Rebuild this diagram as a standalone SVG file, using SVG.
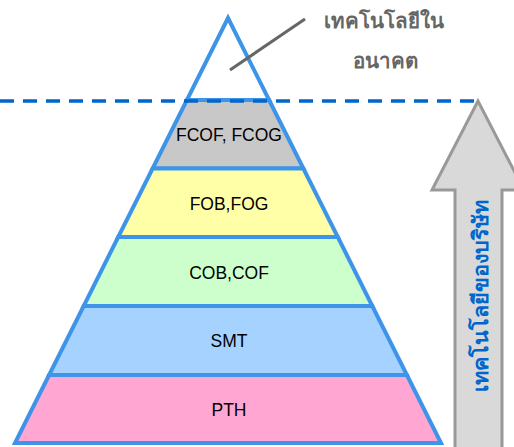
<svg xmlns="http://www.w3.org/2000/svg" width="514" height="447" viewBox="0 0 514 447">
<defs>
<style>
.layer{stroke:#3d94e8;stroke-width:4;stroke-linejoin:miter}
.lbl{font-family:"Liberation Sans",Arial,sans-serif;font-size:17.5px;fill:#000;text-anchor:middle}
.thai{font-family:"Liberation Sans","Noto Sans",sans-serif;font-weight:bold;font-size:20.5px;fill:#666;text-anchor:middle}
</style>
</defs>
<rect width="514" height="447" fill="#fff"/>
<g id="arrow">
<path d="M478,101 L432,190 L455,190 L455,450 L502,450 L502,190 L524,190 Z" fill="#d9d9d9" stroke="#999" stroke-width="3"/>
<text transform="translate(481,296) rotate(-90)" font-family="'Liberation Sans','Noto Sans',sans-serif" font-weight="bold" font-size="21.5" fill="#0066cc" text-anchor="middle" dominant-baseline="central">เทคโนโลยีของบริษัท</text>
</g>
<g id="apex">
<polygon class="layer" points="228,18 269.1,100 186.9,100" fill="#fff"/>
</g>
<g id="layer-fcof">
<polygon class="layer" points="186.9,100 269.1,100 303.4,168.5 152.6,168.5" fill="#c8c8c8"/>
<text class="lbl" x="229" y="141">FCOF, FCOG</text>
</g>
<g id="layer-fob">
<polygon class="layer" points="152.6,168.5 303.4,168.5 337.8,237 118.2,237" fill="#ffffa8"/>
<text class="lbl" x="229" y="210">FOB,FOG</text>
</g>
<g id="layer-cob">
<polygon class="layer" points="118.2,237 337.8,237 372.3,306 83.7,306" fill="#ccffcc"/>
<text class="lbl" x="229" y="279">COB,COF</text>
</g>
<g id="layer-smt">
<polygon class="layer" points="83.7,306 372.3,306 406.9,375 49.1,375" fill="#a6d2ff"/>
<text class="lbl" x="229" y="347">SMT</text>
</g>
<g id="layer-pth">
<polygon class="layer" points="49.1,375 406.9,375 441,443 15,443" fill="#ffa6d2"/>
<text class="lbl" x="229" y="416">PTH</text>
</g>
<g id="connectors">
<line x1="0" y1="101" x2="478" y2="101" stroke="#0066cc" stroke-width="3.5" stroke-dasharray="14,9"/>
<line x1="230" y1="70" x2="305" y2="19" stroke="#666" stroke-width="3"/>
</g>
<g id="future-label">
<text class="thai" x="384" y="28">เทคโนโลยีใน</text>
<text class="thai" x="385" y="68">อนาคต</text>
</g>
</svg>
